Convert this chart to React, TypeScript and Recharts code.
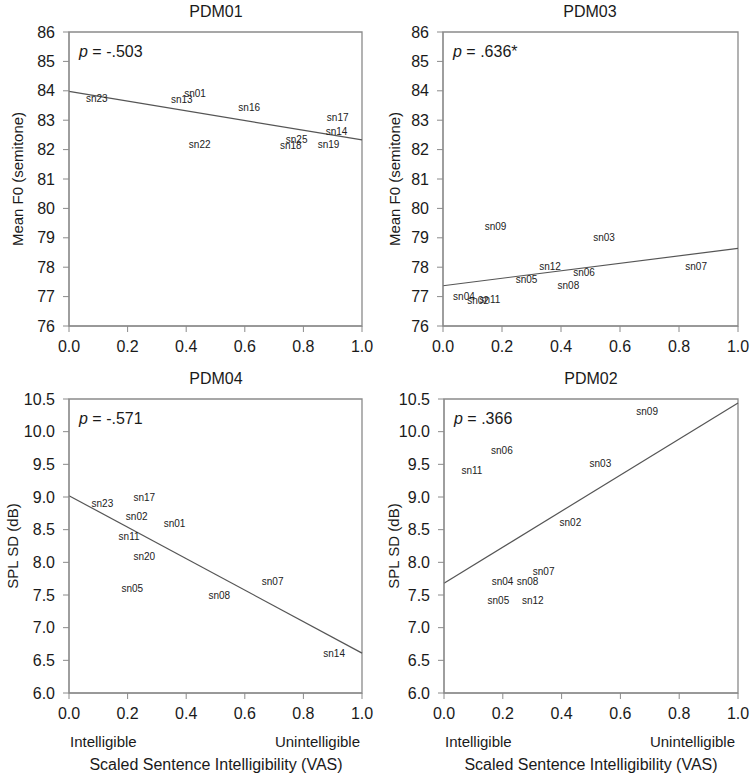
import { ReferenceArea, ReferenceLine, Scatter, ScatterChart, XAxis, YAxis } from "recharts";

const FONT = '"Liberation Sans", Arial, sans-serif';
const AXIS = "#8a8a8a";
const INK = "#1a1a1a";

// x axis (VAS) ticks shared by all panels
const vasTicks = [0, 0.2, 0.4, 0.6, 0.8, 1.0];
const f0Ticks = [76, 77, 78, 79, 80, 81, 82, 83, 84, 85, 86];
const splTicks = [6.0, 6.5, 7.0, 7.5, 8.0, 8.5, 9.0, 9.5, 10.0, 10.5];

// PDM01 – mean F0
const pdm01Names = ["sn23", "sn13", "sn01", "sn16", "sn17", "sn14", "sn25", "sn18", "sn19", "sn22"];
const pdm01Vas = [0.095, 0.385, 0.43, 0.615, 0.917, 0.913, 0.777, 0.757, 0.886, 0.446];
const pdm01F0 = [83.75, 83.69, 83.92, 83.42, 83.1, 82.62, 82.33, 82.13, 82.18, 82.16];
const pdm01Fit = [83.98, 82.33];

// PDM03 – mean F0
const pdm03Names = ["sn09", "sn03", "sn12", "sn07", "sn06", "sn05", "sn08", "sn04", "sn02", "sn11"];
const pdm03Vas = [0.178, 0.546, 0.363, 0.858, 0.478, 0.283, 0.425, 0.071, 0.119, 0.159];
const pdm03F0 = [79.37, 79.01, 78.01, 78.01, 77.81, 77.57, 77.37, 77.02, 76.86, 76.91];
const pdm03Fit = [77.37, 78.64];

// PDM04 – SPL SD
const pdm04Names = ["sn23", "sn17", "sn02", "sn01", "sn11", "sn20", "sn05", "sn08", "sn07", "sn14"];
const pdm04Vas = [0.114, 0.257, 0.231, 0.36, 0.205, 0.257, 0.216, 0.513, 0.695, 0.905];
const pdm04Spl = [8.9, 9.0, 8.7, 8.59, 8.4, 8.09, 7.6, 7.5, 7.71, 6.6];
const pdm04Fit = [9.02, 6.61];

// PDM02 – SPL SD
const pdm02Names = ["sn09", "sn06", "sn11", "sn03", "sn02", "sn07", "sn04", "sn08", "sn05", "sn12"];
const pdm02Vas = [0.691, 0.197, 0.095, 0.532, 0.43, 0.339, 0.199, 0.284, 0.185, 0.302];
const pdm02Spl = [10.31, 9.71, 9.41, 9.51, 8.61, 7.86, 7.71, 7.71, 7.41, 7.41];
const pdm02Fit = [7.68, 10.44];

type PanelProps = {
  title: string;
  rho: string;
  yLabel: string;
  names: string[];
  xs: number[];
  ys: number[];
  fit: number[];
  yTicks: number[];
  yDigits: number;
  left: number;
  top: number;
  yWidth: number;
  yLabelX: number;
  ends: boolean;
};

const SpeakerLabel = (props: any) => (
  <text
    x={props.cx}
    y={props.cy}
    textAnchor="middle"
    dominantBaseline="central"
    fontSize={10}
    fontFamily={FONT}
    fill="#222"
  >
    {props.payload.name}
  </text>
);

function Panel(p: PanelProps) {
  const W = 376;
  const H = 360;
  const mt = 32;
  const mr = 14;
  const xh = 30;
  const plot = 294;
  const mb = H - mt - plot - xh;
  const plotLeft = p.left + p.yWidth;
  const plotTop = p.top + mt;
  const data = p.names.map((name, i) => ({ name, x: p.xs[i], y: p.ys[i] }));
  const yDomain = [p.yTicks[0], p.yTicks[p.yTicks.length - 1]];
  const cx = plotLeft + plot / 2;

  return (
    <>
      <div style={{ position: "absolute", left: p.left, top: p.top, width: W, height: H }}>
        <ScatterChart width={W} height={H} margin={{ top: mt, right: mr, bottom: mb, left: 0 }}>
          <XAxis
            type="number"
            dataKey="x"
            domain={[0, 1]}
            ticks={vasTicks}
            interval={0}
            tickFormatter={(v: number) => v.toFixed(1)}
            height={xh}
            tickSize={6}
            tickMargin={9}
            stroke={AXIS}
            tick={{ fill: INK, fontSize: 16, fontFamily: FONT }}
          />
          <YAxis
            type="number"
            dataKey="y"
            domain={yDomain}
            ticks={p.yTicks}
            interval={0}
            tickFormatter={(v: number) => v.toFixed(p.yDigits)}
            width={p.yWidth}
            tickSize={6}
            tickMargin={8}
            stroke={AXIS}
            tick={{ fill: INK, fontSize: 16, fontFamily: FONT }}
          />
          <ReferenceArea x1={0} x2={1} y1={yDomain[0]} y2={yDomain[1]} fill="none" stroke={AXIS} strokeWidth={1.3} />
          <ReferenceLine
            segment={[
              { x: 0, y: p.fit[0] },
              { x: 1, y: p.fit[1] },
            ]}
            stroke="#555"
            strokeWidth={1.2}
          />
          <Scatter data={data} shape={SpeakerLabel} isAnimationActive={false} />
        </ScatterChart>
      </div>
      <div
        style={{
          position: "absolute",
          left: cx - 60,
          width: 120,
          top: p.top + 3,
          textAlign: "center",
          fontSize: 16,
          fontFamily: FONT,
          color: INK,
        }}
      >
        {p.title}
      </div>
      <div
        style={{
          position: "absolute",
          left: plotLeft + 10,
          top: plotTop + 11,
          fontSize: 16,
          fontFamily: FONT,
          color: INK,
          whiteSpace: "nowrap",
        }}
      >
        <i>p</i> = {p.rho}
      </div>
      <div
        style={{
          position: "absolute",
          left: p.left + p.yLabelX - 100,
          top: plotTop + plot / 2 - 10,
          width: 200,
          height: 20,
          lineHeight: "20px",
          textAlign: "center",
          transform: "rotate(-90deg)",
          fontSize: 15,
          fontFamily: FONT,
          color: INK,
        }}
      >
        {p.yLabel}
      </div>
      {p.ends && (
        <>
          <div style={{ position: "absolute", left: plotLeft + 1, top: 733, fontSize: 15, fontFamily: FONT, color: INK }}>
            Intelligible
          </div>
          <div
            style={{
              position: "absolute",
              right: 752 - (plotLeft + plot) + 3,
              top: 733,
              fontSize: 15,
              fontFamily: FONT,
              color: INK,
            }}
          >
            Unintelligible
          </div>
          <div
            style={{
              position: "absolute",
              left: cx - 150,
              width: 300,
              top: 756,
              textAlign: "center",
              fontSize: 16,
              fontFamily: FONT,
              color: INK,
            }}
          >
            Scaled Sentence Intelligibility (VAS)
          </div>
        </>
      )}
    </>
  );
}

export default function App() {
  return (
    <div style={{ position: "absolute", left: 0, top: 0, width: 752, height: 779, background: "#fff", overflow: "hidden" }}>
      <Panel
        title="PDM01"
        rho="-.503"
        yLabel="Mean F0 (semitone)"
        names={pdm01Names}
        xs={pdm01Vas}
        ys={pdm01F0}
        fit={pdm01Fit}
        yTicks={f0Ticks}
        yDigits={0}
        left={0}
        top={0}
        yWidth={69}
        yLabelX={18}
        ends={false}
      />
      <Panel
        title="PDM03"
        rho=".636*"
        yLabel="Mean F0 (semitone)"
        names={pdm03Names}
        xs={pdm03Vas}
        ys={pdm03F0}
        fit={pdm03Fit}
        yTicks={f0Ticks}
        yDigits={0}
        left={376}
        top={0}
        yWidth={67}
        yLabelX={19}
        ends={false}
      />
      <Panel
        title="PDM04"
        rho="-.571"
        yLabel="SPL SD (dB)"
        names={pdm04Names}
        xs={pdm04Vas}
        ys={pdm04Spl}
        fit={pdm04Fit}
        yTicks={splTicks}
        yDigits={1}
        left={0}
        top={367}
        yWidth={69}
        yLabelX={13}
        ends={true}
      />
      <Panel
        title="PDM02"
        rho=".366"
        yLabel="SPL SD (dB)"
        names={pdm02Names}
        xs={pdm02Vas}
        ys={pdm02Spl}
        fit={pdm02Fit}
        yTicks={splTicks}
        yDigits={1}
        left={376}
        top={367}
        yWidth={68}
        yLabelX={18}
        ends={true}
      />
    </div>
  );
}
